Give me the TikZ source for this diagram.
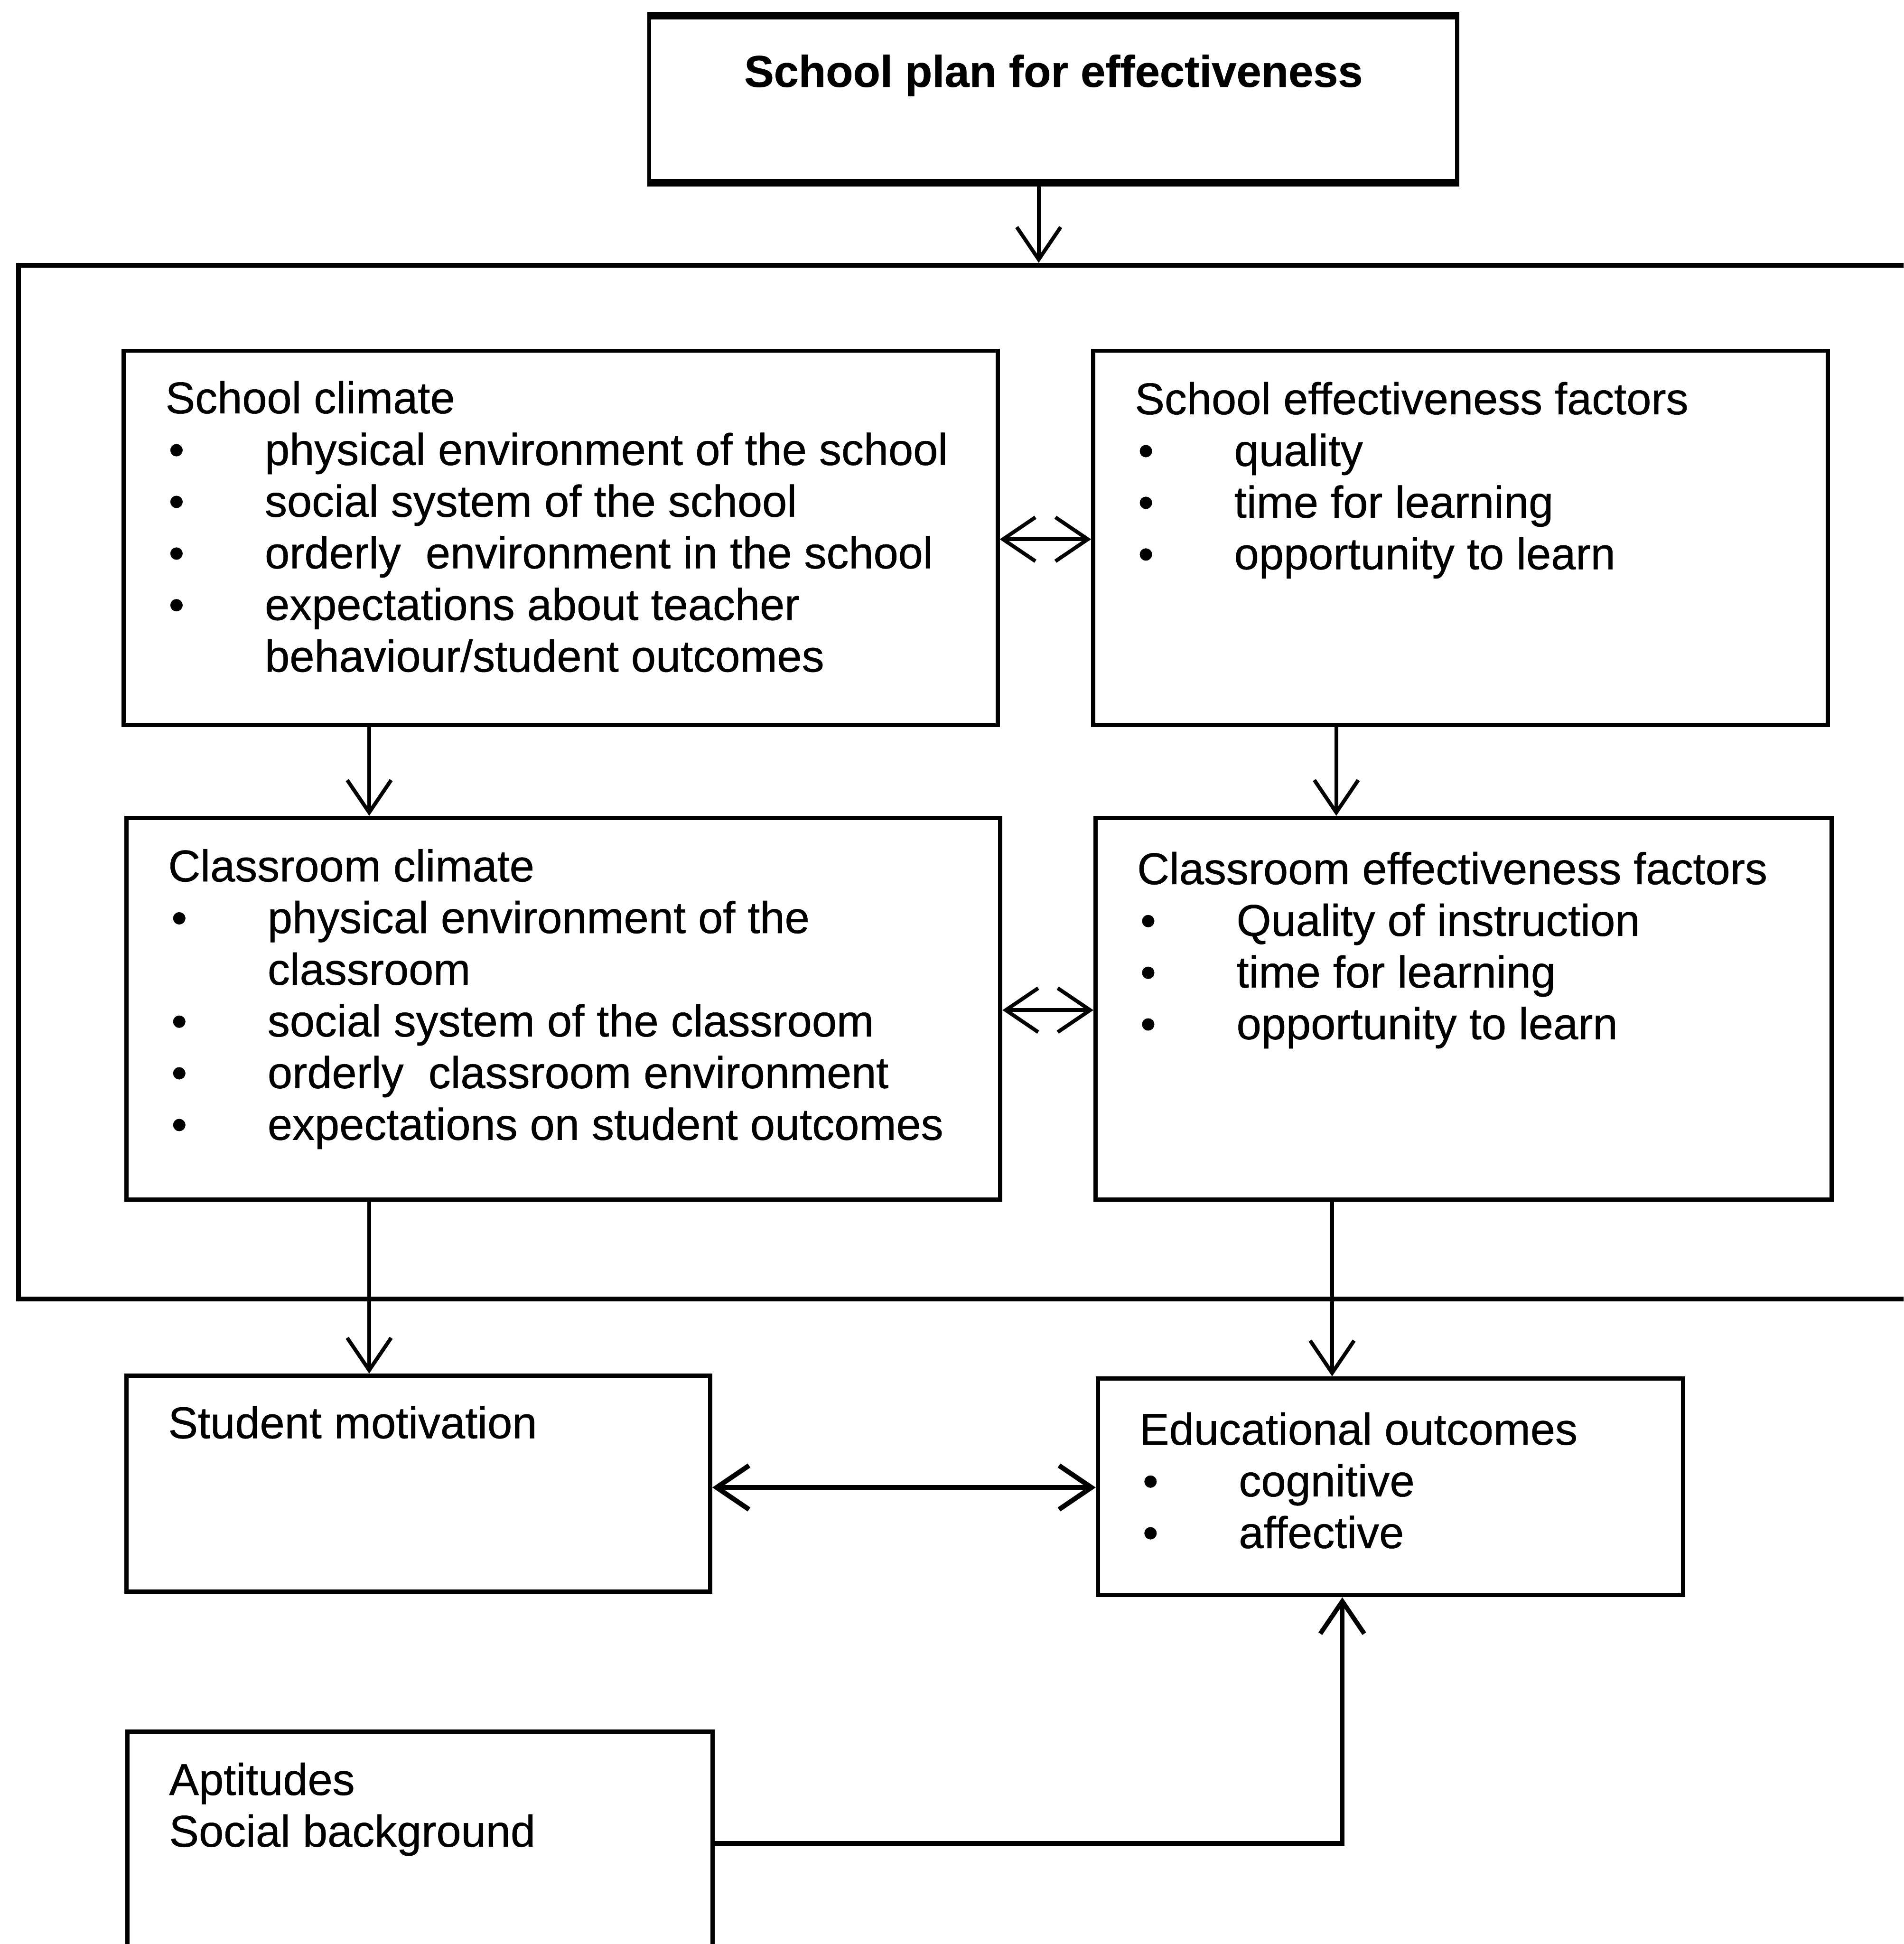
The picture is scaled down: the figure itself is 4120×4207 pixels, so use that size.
\documentclass[tikz,border=0pt]{standalone}
\usepackage{fontspec}
\setmainfont[FakeBold=0.6]{Liberation Sans}
\usetikzlibrary{arrows.meta,fit,calc}

% body text size and line spacing
\newcommand\diagfont{\fontsize{27.4pt}{31.8pt}\selectfont}
% one bulleted line, and a continuation line at the same indent
\newcommand\bitem[1]{\par\noindent\makebox[2.15cm][l]{\hspace{0.07cm}\textbullet}#1}
\newcommand\bcont[1]{\par\noindent\hspace*{2.15cm}#1}
% text block whose first baseline sits on the node's base anchor
\newcommand\blk[1]{\parbox[t]{24cm}{\raggedright #1}}

\begin{document}
\begin{tikzpicture}[x=0.01cm, y=-0.01cm,
  box/.style={draw, rectangle, line width=2.6pt, inner sep=0pt},
  txt/.style={anchor=base west, inner sep=0pt, font=\diagfont},
  arr/.style={line width=2.3pt, -{Straight Barb[length=0.7cm, width=0.95cm]}},
  darr/.style={line width=2.3pt, {Straight Barb[length=0.7cm, width=0.95cm]}-{Straight Barb[length=0.7cm, width=0.95cm]}},
]
\useasboundingbox (0,0) rectangle (4120,4207);
\clip (0,0) rectangle (4120,4207);

% ---- boxes ----
\node[box, fit={(1405,38) (3154,392)}] (plan) {};
\draw[line width=4.2pt] (plan.north west) -- (plan.north east);
\draw[line width=4.2pt] (plan.south west) -- (plan.south east);
\node[font=\diagfont\bfseries, inner sep=0pt, anchor=base] (plantxt) at (2280,188) {School plan for effectiveness};

\node[box, line width=3pt, fit={(40,574) (4300,2811)}] (frame) {};

\node[box, fit={(268,759) (2159,1569)}] (sc) {};
\node[box, fit={(2366,759) (3956,1569)}] (se) {};
\node[box, fit={(274,1770) (2165,2596)}] (cc) {};
\node[box, fit={(2371,1770) (3964,2596)}] (ce) {};
\node[box, fit={(274,2977) (1537,3444)}] (sm) {};
\node[box, fit={(2376,2983) (3643,3452)}] (eo) {};
\node[box, fit={(276,3747) (1542,4320)}] (ap) {};

% ---- texts ----
\node[txt] (sctxt) at ($(sc.north west)+(94,140)$) {\blk{School climate
  \bitem{physical environment of the school}
  \bitem{social system of the school}
  \bitem{orderly\ \ environment in the school}
  \bitem{expectations about teacher}
  \bcont{behaviour/student outcomes}}};

\node[txt] (setxt) at ($(se.north west)+(94,142)$) {\blk{School effectiveness factors
  \bitem{quality}
  \bitem{time for learning}
  \bitem{opportunity to learn}}};

\node[txt] (cctxt) at ($(cc.north west)+(94,142)$) {\blk{Classroom climate
  \bitem{physical environment of the}
  \bcont{classroom}
  \bitem{social system of the classroom}
  \bitem{orderly\ \ classroom environment}
  \bitem{expectations on student outcomes}}};

\node[txt] (cetxt) at ($(ce.north west)+(94,148)$) {\blk{Classroom effectiveness factors
  \bitem{Quality of instruction}
  \bitem{time for learning}
  \bitem{opportunity to learn}}};

\node[txt] (smtxt) at ($(sm.north west)+(94,140)$) {\blk{Student motivation}};

\node[txt] (eotxt) at ($(eo.north west)+(94,148)$) {\blk{Educational outcomes
  \bitem{cognitive}
  \bitem{affective}}};

\node[txt] (aptxt) at ($(ap.north west)+(94,142)$) {\blk{Aptitudes\par Social background}};

% ---- connector positions ----
\coordinate (xa) at (2248,0);
\coordinate (xb) at (799,0);
\coordinate (xc) at (2892,0);
\coordinate (xd) at (2883,0);
\coordinate (xe) at (2905,0);
\coordinate (ya) at (0,1167);
\coordinate (yb) at (0,2186);
\coordinate (yc) at (0,3219);
\coordinate (yd) at (0,3989);

% ---- connectors ----
\draw[arr] (xa |- plan.south) -- (xa |- frame.north);
\draw[darr] (sc.east |- ya) -- (se.west |- ya);
\draw[arr] (xb |- sc.south) -- (xb |- cc.north);
\draw[arr] (xc |- se.south) -- (xc |- ce.north);
\draw[darr] (cc.east |- yb) -- (ce.west |- yb);
\draw[arr] (xb |- cc.south) -- (xb |- sm.north);
\draw[arr] (xd |- ce.south) -- (xd |- eo.north);
\draw[darr, line width=3pt] (sm.east |- yc) -- (eo.west |- yc);
\draw[arr, line width=2.8pt] (ap.east |- yd) -- (xe |- yd) -- (xe |- eo.south);
\end{tikzpicture}
\end{document}
